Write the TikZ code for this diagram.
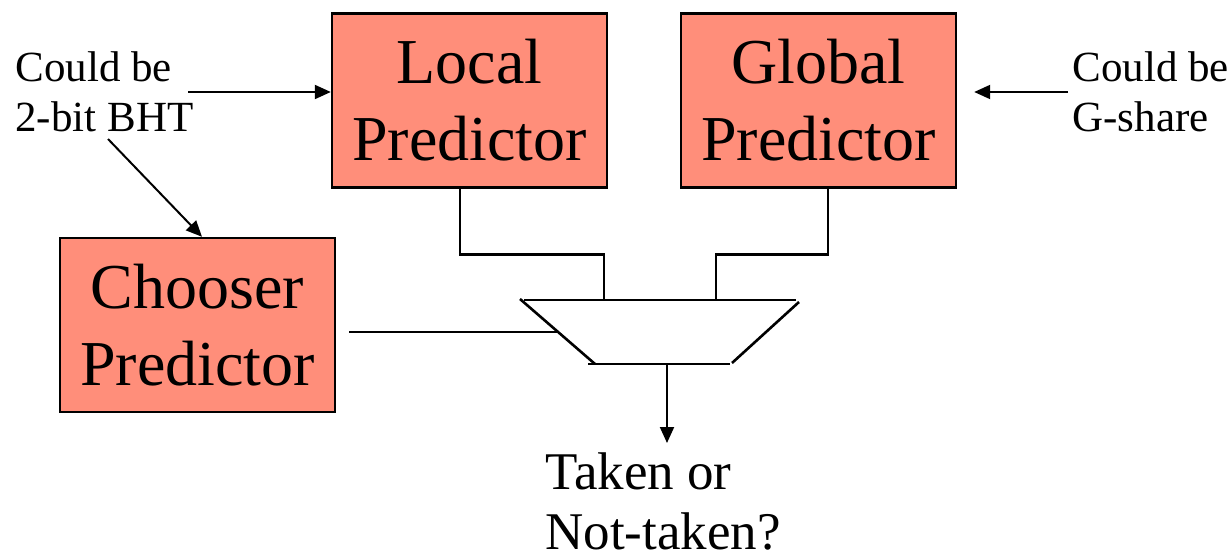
\documentclass[tikz,border=0pt]{standalone}
\usepackage{fontspec}
\setmainfont{Liberation Serif}
\usetikzlibrary{arrows.meta,calc}
\definecolor{predfill}{RGB}{255,142,122}
\tikzset{
  pred/.style={draw=black, line width=1.2pt, fill=predfill,
    minimum width=137.5pt, minimum height=87pt, inner sep=0pt,
    align=center, font=\fontsize{32}{38.5}\selectfont},
  note/.style={inner sep=0pt, align=left, font=\fontsize{21.5}{25}\selectfont},
  result/.style={inner sep=0pt, align=left, font=\fontsize{26.5}{30}\selectfont},
  wire/.style={line width=1.3pt},
  ptr/.style={line width=1pt, -{Triangle[length=8pt,width=7pt]}},
}
\begin{document}
\begin{tikzpicture}[x=0.5pt,y=-0.5pt]
\useasboundingbox (0,0) rectangle (1231,556);

% predictor tables
\node[pred] (local)   at (469.5,100.5)    {Local\\Predictor};
\node[pred] (global)  at (818.5,100.5)    {Global\\Predictor};
\node[pred] (chooser) at (197.5,325) {Chooser\\Predictor};

% side notes
\node[note, anchor=north west] (lnote) at (15,51)   {Could be\\2-bit BHT};
\node[note, anchor=north west] (rnote) at (1072,51) {Could be\\G-share};

% multiplexer outline
\draw[wire] (524,300) -- (796,300);
\draw[wire] (520,299) -- (595,364);
\draw[wire] (799,302) -- (732,363);
\draw[wire] (588,364) -- (730,364);

\coordinate (muxL)   at (604,300);
\coordinate (muxR)   at (716,300);
\coordinate (muxSel) at (558,332);
\coordinate (muxOut) at (667,364);

% data inputs to the mux
\draw[wire] ([xshift=-4.75pt]local.south) -- ++(0,-33pt) -| (muxL);
\draw[wire] ([xshift=4.75pt]global.south) -- ++(0,-33pt) -| (muxR);
% select input
\draw[wire] ([shift={(6.5pt,-3.5pt)}]chooser.east) -- (muxSel);

% output
\node[result, anchor=north west] (taken) at (545,452) {Taken or\\Not-taken?};
\coordinate (outTip) at (667,443);
\draw[ptr] (muxOut) -- (outTip);

% note arrows
\coordinate (lA) at (188,92);
\coordinate (lB) at (108,139);
\coordinate (rA) at (1068,92);
\draw[ptr] (lA) -- (local.west |- lA);
\draw[ptr] (lB) -- ([xshift=2.25pt]chooser.north);
\draw[ptr] (rA) -- ([xshift=8.5pt]global.east |- rA);
\end{tikzpicture}
\end{document}
